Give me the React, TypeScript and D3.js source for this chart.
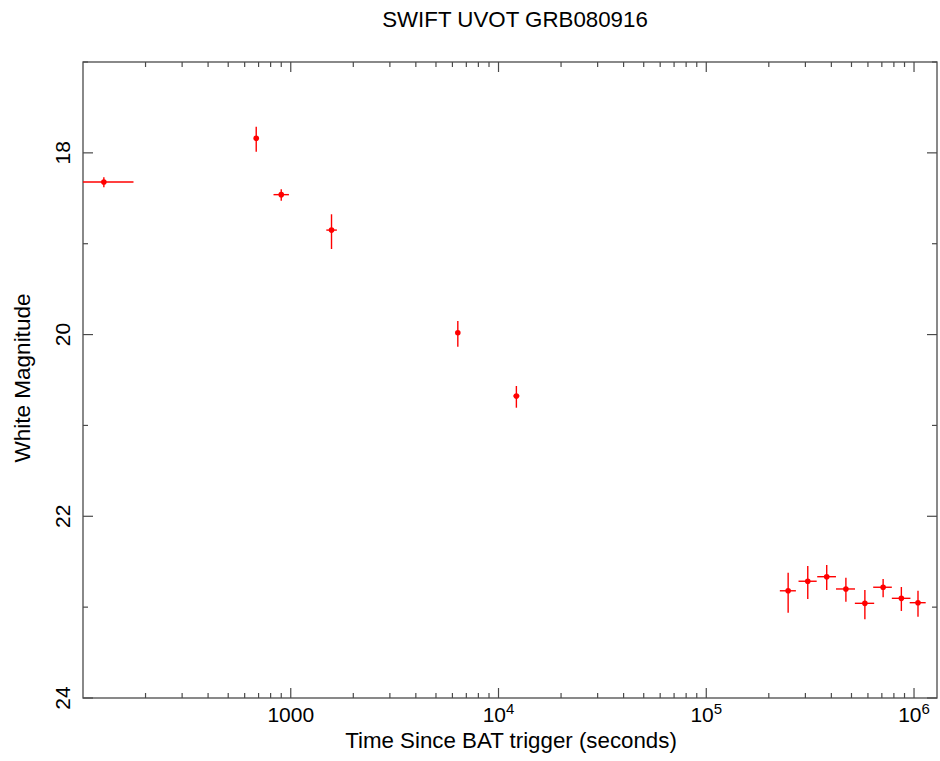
import React, { useEffect, useRef } from 'react';
import * as d3 from 'd3';

// time since trigger (s), with lower / upper time-bin edges
const times = [126, 682, 900, 1571, 6370, 12190, 247800, 308000, 380000, 470000, 580000, 710000, 869000, 1045000];
const timeLo = [80, 682, 826, 1483, 6370, 11800, 226000, 278000, 342000, 421000, 519000, 636000, 782000, 953000];
const timeHi = [175, 682, 980, 1667, 6370, 12600, 270000, 340000, 421000, 520000, 643000, 782000, 961000, 1138000];
// white magnitude with lower / upper error bounds
const mags = [18.32, 17.84, 18.46, 18.85, 19.98, 20.676, 22.82, 22.715, 22.665, 22.8, 22.958, 22.781, 22.903, 22.951];
const magLo = [18.269, 17.712, 18.401, 18.676, 19.851, 20.566, 22.621, 22.547, 22.536, 22.676, 22.811, 22.69, 22.778, 22.819];
const magHi = [18.379, 17.987, 18.527, 19.058, 20.133, 20.805, 23.061, 22.91, 22.811, 22.94, 23.134, 22.892, 23.042, 23.105];

const xMajor = [1000, 1e4, 1e5, 1e6];
const xMajorLabels = [['1000', ''], ['10', '4'], ['10', '5'], ['10', '6']];
const yMajor = [18, 20, 22, 24];
const yMinor = [17, 19, 21, 23];

export default function App() {
  const svgRef = useRef<SVGSVGElement>(null);

  useEffect(() => {
    if (!svgRef.current) return;
    const svg = d3.select(svgRef.current);
    svg.selectAll('*').remove();

    const left = 83, right = 937, top = 62, bottom = 698;
    const x = d3.scaleLog().domain([100, 1.29e6]).range([left, right]);
    const y = d3.scaleLinear().domain([17, 24]).range([top, bottom]);
    const font = 'Liberation Sans, Arial, Helvetica, sans-serif';
    const axisColor = '#4a4a4a';

    // minor x ticks
    const xMinor: number[] = [];
    for (let p = 2; p <= 6; p++) {
      for (let k = 2; k <= 9; k++) {
        const v = k * Math.pow(10, p);
        if (v >= 100 && v <= 1.29e6) xMinor.push(v);
      }
    }

    const ticks = svg.append('g').attr('stroke', axisColor).attr('stroke-width', 1.2);
    xMinor.forEach(v => {
      ticks.append('line').attr('x1', x(v)).attr('x2', x(v)).attr('y1', bottom).attr('y2', bottom - 5);
      ticks.append('line').attr('x1', x(v)).attr('x2', x(v)).attr('y1', top).attr('y2', top + 5);
    });
    xMajor.forEach(v => {
      ticks.append('line').attr('x1', x(v)).attr('x2', x(v)).attr('y1', bottom).attr('y2', bottom - 10);
      ticks.append('line').attr('x1', x(v)).attr('x2', x(v)).attr('y1', top).attr('y2', top + 10);
    });
    yMajor.forEach(v => {
      ticks.append('line').attr('x1', left).attr('x2', left + 10).attr('y1', y(v)).attr('y2', y(v));
      ticks.append('line').attr('x1', right).attr('x2', right - 10).attr('y1', y(v)).attr('y2', y(v));
    });
    yMinor.forEach(v => {
      ticks.append('line').attr('x1', left).attr('x2', left + 5).attr('y1', y(v)).attr('y2', y(v));
      ticks.append('line').attr('x1', right).attr('x2', right - 5).attr('y1', y(v)).attr('y2', y(v));
    });

    // frame
    svg.append('rect')
      .attr('x', left).attr('y', top)
      .attr('width', right - left).attr('height', bottom - top)
      .attr('fill', 'none').attr('stroke', axisColor).attr('stroke-width', 1.3);

    // x tick labels
    xMajor.forEach((v, i) => {
      const t = svg.append('text')
        .attr('x', x(v)).attr('y', 722)
        .attr('text-anchor', 'middle')
        .attr('font-family', font).attr('font-size', 21).attr('fill', '#000');
      t.append('tspan').text(xMajorLabels[i][0]);
      if (xMajorLabels[i][1]) {
        t.append('tspan').attr('font-size', 15).attr('dy', -8).text(xMajorLabels[i][1]);
      }
    });

    // y tick labels (rotated)
    yMajor.forEach(v => {
      svg.append('text')
        .attr('transform', `translate(70,${y(v)}) rotate(-90)`)
        .attr('text-anchor', 'middle')
        .attr('font-family', font).attr('font-size', 21).attr('fill', '#000')
        .text(String(v));
    });

    // axis titles
    svg.append('text')
      .attr('x', 511).attr('y', 748)
      .attr('text-anchor', 'middle')
      .attr('font-family', font).attr('font-size', 22.3).attr('fill', '#000')
      .text('Time Since BAT trigger (seconds)');
    svg.append('text')
      .attr('transform', 'translate(30,378) rotate(-90)')
      .attr('text-anchor', 'middle')
      .attr('font-family', font).attr('font-size', 22.5).attr('fill', '#000')
      .text('White Magnitude');
    svg.append('text')
      .attr('x', 515).attr('y', 27)
      .attr('text-anchor', 'middle')
      .attr('font-family', font).attr('font-size', 22.3).attr('fill', '#000')
      .text('SWIFT UVOT GRB080916');

    // data
    const plot = svg.append('g');
    const clip = svg.append('clipPath').attr('id', 'plotclip');
    clip.append('rect').attr('x', left).attr('y', top).attr('width', right - left).attr('height', bottom - top);
    plot.attr('clip-path', 'url(#plotclip)');

    times.forEach((t, i) => {
      const cx = x(t), cy = y(mags[i]);
      if (timeHi[i] > timeLo[i]) {
        plot.append('line')
          .attr('x1', x(timeLo[i])).attr('x2', x(timeHi[i]))
          .attr('y1', cy).attr('y2', cy)
          .attr('stroke', '#ff0000').attr('stroke-width', 1.4);
      }
      plot.append('line')
        .attr('x1', cx).attr('x2', cx)
        .attr('y1', y(magLo[i])).attr('y2', y(magHi[i]))
        .attr('stroke', '#ff0000').attr('stroke-width', 1.4);
      plot.append('circle')
        .attr('cx', cx).attr('cy', cy).attr('r', 2.8)
        .attr('fill', '#ff0000');
    });
  }, []);

  return (
    <svg ref={svgRef} width={940} height={761}
      style={{ position: 'absolute', left: 0, top: 0, background: '#fff' }} />
  );
}
